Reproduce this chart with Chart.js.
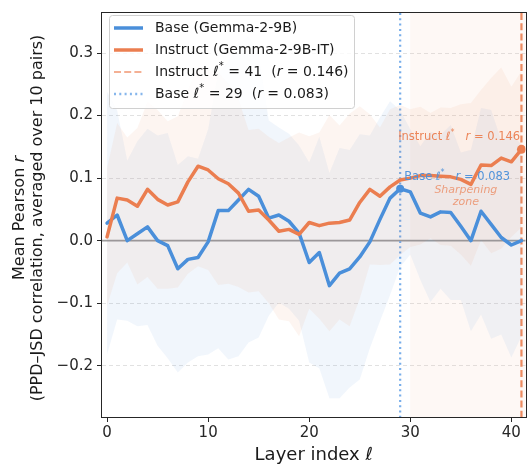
<!DOCTYPE html>
<html><head><meta charset="utf-8">
<script src="https://cdn.jsdelivr.net/npm/chart.js@4.4.1/dist/chart.umd.min.js"></script>
<style>html,body{margin:0;padding:0;background:#fff}canvas{display:block}</style>
</head><body>
<canvas id="c" width="530" height="466"></canvas>
<script>
// ---- data ----
const layers = [0,1,2,3,4,5,6,7,8,9,10,11,12,13,14,15,16,17,18,19,20,21,22,23,24,25,26,27,28,29,30,31,32,33,34,35,36,37,38,39,40,41];
const baseMean = [0.028,0.041,0.000,0.011,0.022,0.000,-0.008,-0.045,-0.030,-0.027,-0.002,0.048,0.048,0.065,0.082,0.071,0.036,0.041,0.031,0.012,-0.035,-0.019,-0.072,-0.052,-0.045,-0.026,-0.002,0.034,0.068,0.083,0.078,0.044,0.038,0.046,0.045,0.023,0.000,0.047,0.026,0.005,-0.007,0.000];
const baseStd  = [0.21,0.167,0.128,0.148,0.157,0.168,0.18,0.166,0.165,0.158,0.18,0.22,0.238,0.25,0.245,0.226,0.156,0.14,0.14,0.14,0.16,0.185,0.18,0.2,0.19,0.196,0.17,0.163,0.155,0.125,0.10,0.107,0.136,0.123,0.14,0.118,0.145,0.165,0.183,0.155,0.18,0.153];
const instMean = [0.006,0.068,0.065,0.055,0.082,0.066,0.057,0.062,0.094,0.119,0.113,0.099,0.091,0.076,0.047,0.049,0.033,0.015,0.018,0.010,0.029,0.024,0.028,0.029,0.033,0.061,0.082,0.071,0.086,0.097,0.100,0.104,0.104,0.103,0.102,0.098,0.090,0.121,0.120,0.132,0.126,0.146];
const instStd  = [0.11,0.12,0.10,0.125,0.14,0.143,0.134,0.137,0.147,0.16,0.16,0.17,0.16,0.15,0.13,0.13,0.133,0.141,0.147,0.163,0.138,0.149,0.173,0.155,0.17,0.154,0.12,0.11,0.124,0.12,0.11,0.11,0.10,0.11,0.11,0.12,0.13,0.12,0.14,0.145,0.12,0.125];
const yTickValues = [-0.2,-0.1,0.0,0.1,0.2,0.3];
const xTickValues = [0,10,20,30,40];
const basePeak = {layer:29, r:0.083};
const instPeak = {layer:41, r:0.146};
const zoneStart = 30;
const seriesNames = ['Base (Gemma-2-9B)','Instruct (Gemma-2-9B-IT)'];

// ---- style ----
const F = 'DejaVu Sans';
const BLUE = '#4A8FDA', ORANGE = '#EB7E50';
const pts = arr => layers.map((x,i)=>({x, y: arr[i]}));
const lowerOf = (m,s) => m.map((v,i)=>v - s[i]);
const upperOf = (m,s) => m.map((v,i)=>v + s[i]);

function richWidth(ctx, segs, size){
  let total = 0;
  segs.forEach(([t,k])=>{ctx.font=fontFor(k,size); total += ctx.measureText(t).width;});
  return total;
}
function fontFor(k,size){
  return (k==='i'||k==='it') ? `italic ${size}px ${F}` : (k==='s' ? `${Math.round(size*0.72)}px ${F}` : `${size}px ${F}`);
}
function drawRich(ctx, x, y, segs, size, color, align){
  const total = richWidth(ctx, segs, size);
  let cx = align==='center' ? x - total/2 : x;
  ctx.fillStyle = color; ctx.textBaseline='middle'; ctx.textAlign='left';
  segs.forEach(([t,k])=>{ctx.font=fontFor(k,size); ctx.fillText(t, cx, k==='s' ? y - size*0.38 : y); cx += ctx.measureText(t).width;});
}

const decor = {
  id:'decor',
  beforeDatasetsDraw(chart){
    const {ctx, chartArea:a, scales:{x,y}} = chart;
    ctx.save();
    const zx = x.getPixelForValue(zoneStart);
    ctx.fillStyle = 'rgba(244,160,118,0.07)';
    ctx.fillRect(zx, a.top, a.right - zx, a.bottom - a.top);
    const y0 = y.getPixelForValue(0);
    ctx.strokeStyle = '#9c9c9c'; ctx.lineWidth = 1.6; ctx.setLineDash([]);
    ctx.beginPath(); ctx.moveTo(a.left, y0); ctx.lineTo(a.right, y0); ctx.stroke();
    const bx = x.getPixelForValue(basePeak.layer);
    ctx.strokeStyle = '#78AEEA'; ctx.lineWidth = 2.2; ctx.setLineDash([2,3.3]);
    ctx.beginPath(); ctx.moveTo(bx, a.top); ctx.lineTo(bx, a.bottom); ctx.stroke();
    const ix = x.getPixelForValue(instPeak.layer);
    ctx.strokeStyle = 'rgba(235,126,80,0.9)'; ctx.lineWidth = 2.2; ctx.setLineDash([7,3.2]);
    ctx.beginPath(); ctx.moveTo(ix, a.top); ctx.lineTo(ix, a.bottom); ctx.stroke();
    ctx.restore();
  },
  afterDatasetsDraw(chart){
    const {ctx, scales:{x,y}} = chart;
    ctx.save();
    drawRich(ctx, x.getPixelForValue(28.8), y.getPixelForValue(0.165),
      [['Instruct ','n'],['ℓ','i'],['*','s'],['   ','n'],['r','i'],[' = '+instPeak.r.toFixed(3),'n']], 11.5, 'rgba(235,126,80,0.95)');
    drawRich(ctx, x.getPixelForValue(29.4), y.getPixelForValue(0.102),
      [['Base ','n'],['ℓ','i'],['*','s'],['   ','n'],['r','i'],[' = '+basePeak.r.toFixed(3),'n']], 11.5, 'rgba(74,143,218,0.95)');
    drawRich(ctx, x.getPixelForValue(35.5), y.getPixelForValue(0.080), [['Sharpening','it']], 11, 'rgba(235,126,80,0.7)', 'center');
    drawRich(ctx, x.getPixelForValue(35.5), y.getPixelForValue(0.062), [['zone','it']], 11, 'rgba(235,126,80,0.7)', 'center');
    ctx.restore();
  },
  afterDraw(chart){
    const {ctx, chartArea:a} = chart;
    ctx.save();
    ctx.strokeStyle = '#262626'; ctx.lineWidth = 1; ctx.setLineDash([]);
    ctx.strokeRect(Math.round(a.left)-0.5, Math.round(a.top)-0.5, Math.round(a.right-a.left)+1, Math.round(a.bottom-a.top)+1);
    // y-axis title (rotated, with italic r)
    ctx.save();
    const cy = (a.top + a.bottom)/2 + 3;
    ctx.translate(20, cy); ctx.rotate(-Math.PI/2);
    drawRich(ctx, 0, 0, [['Mean Pearson ','n'],['r','i']], 16, '#1a1a1a', 'center');
    ctx.restore();
    ctx.save();
    ctx.translate(37.5, cy); ctx.rotate(-Math.PI/2);
    drawRich(ctx, 0, 0, [['(PPD\u2013JSD correlation, averaged over 10 pairs)','n']], 16, '#1a1a1a', 'center');
    ctx.restore();
    // legend
    const lx = 109, ly = 15, lw = 245, lh = 93;
    ctx.beginPath();
    if (ctx.roundRect) ctx.roundRect(lx+0.5, ly+0.5, lw, lh, 3); else ctx.rect(lx+0.5, ly+0.5, lw, lh);
    ctx.fillStyle = 'rgba(255,255,255,0.82)'; ctx.fill();
    ctx.strokeStyle = '#d0d0d0'; ctx.lineWidth = 1; ctx.stroke();
    const rows = [28, 50, 72, 94];
    const sample = (yy, color, w, dash) => {
      ctx.strokeStyle = color; ctx.lineWidth = w; ctx.setLineDash(dash);
      ctx.beginPath(); ctx.moveTo(114, yy); ctx.lineTo(143, yy); ctx.stroke();
    };
    sample(rows[0], BLUE, 3.5, []);
    sample(rows[1], ORANGE, 3.5, []);
    sample(rows[2], 'rgba(240,150,112,0.75)', 2.2, [7,3.2]);
    sample(rows[3], '#86B6EC', 2.4, [2,3.3]);
    ctx.setLineDash([]);
    const tc = '#1a1a1a';
    drawRich(ctx, 155, rows[0], [[seriesNames[0],'n']], 14, tc);
    drawRich(ctx, 155, rows[1], [[seriesNames[1],'n']], 14, tc);
    drawRich(ctx, 155, rows[2], [['Instruct ','n'],['ℓ','i'],['*','s'],[' = '+instPeak.layer+'  (','n'],['r','i'],[' = '+instPeak.r.toFixed(3)+')','n']], 14, tc);
    drawRich(ctx, 155, rows[3], [['Base ','n'],['ℓ','i'],['*','s'],[' = '+basePeak.layer+'  (','n'],['r','i'],[' = '+basePeak.r.toFixed(3)+')','n']], 14, tc);
    ctx.restore();
  }
};

new Chart(document.getElementById('c'), {
  type:'line',
  data:{
    datasets:[
      {data:pts(lowerOf(baseMean,baseStd)), borderWidth:0, pointRadius:0, fill:false, order:3},
      {data:pts(upperOf(baseMean,baseStd)), borderWidth:0, pointRadius:0, fill:0, backgroundColor:'rgba(74,143,218,0.08)', order:3},
      {data:pts(lowerOf(instMean,instStd)), borderWidth:0, pointRadius:0, fill:false, order:2},
      {data:pts(upperOf(instMean,instStd)), borderWidth:0, pointRadius:0, fill:2, backgroundColor:'rgba(235,126,80,0.08)', order:2},
      {label:seriesNames[0], data:pts(baseMean), borderColor:BLUE, borderWidth:3.5, tension:0, fill:false,
        pointRadius: c => layers[c.dataIndex]===basePeak.layer ? 4 : 0, pointBackgroundColor:BLUE, pointBorderWidth:0, order:1},
      {label:seriesNames[1], data:pts(instMean), borderColor:ORANGE, borderWidth:3.5, tension:0, fill:false,
        pointRadius: c => layers[c.dataIndex]===instPeak.layer ? 4.5 : 0, pointBackgroundColor:ORANGE, pointBorderWidth:0, order:0}
    ]
  },
  options:{
    responsive:false, animation:false, devicePixelRatio:1,
    layout:{padding:{top:7,right:3,left:0,bottom:0}},
    plugins:{legend:{display:false}, tooltip:{enabled:false}},
    elements:{line:{borderJoinStyle:'round', borderCapStyle:'round'}},
    scales:{
      x:{type:'linear', min:-0.5, max:41.4,
        afterBuildTicks: s => { s.ticks = xTickValues.map(v=>({value:v})); },
        afterFit: s => { s.height = 49; },
        grid:{drawOnChartArea:false, drawTicks:true, tickLength:5, tickColor:'#262626', tickWidth:1},
        border:{display:false},
        ticks:{font:{family:F,size:15}, color:'#262626', padding:2, maxRotation:0, autoSkip:false},
        title:{display:true, text:'Layer index ℓ', font:{family:F,size:18}, color:'#1a1a1a', padding:{top:0,bottom:0}}
      },
      y:{type:'linear', min:-0.282, max:0.364,
        afterBuildTicks: s => { s.ticks = yTickValues.map(v=>({value:v})); },
        afterFit: s => { s.width = 102; },
        grid:{color: c => (c.tick && Math.abs(c.tick.value) < 1e-9) ? 'rgba(0,0,0,0)' : '#dedede', lineWidth:0.9, tickLength:5, tickColor:'#262626', tickWidth:1},
        border:{display:false, dash:[4,3]},
        ticks:{font:{family:F,size:15}, color:'#262626', padding:4,
          callback: v => (v < -1e-9 ? '\u2212' : '') + Math.abs(v).toFixed(1)},
        title:{display:false}
      }
    }
  },
  plugins:[decor]
});
</script>
</body></html>
